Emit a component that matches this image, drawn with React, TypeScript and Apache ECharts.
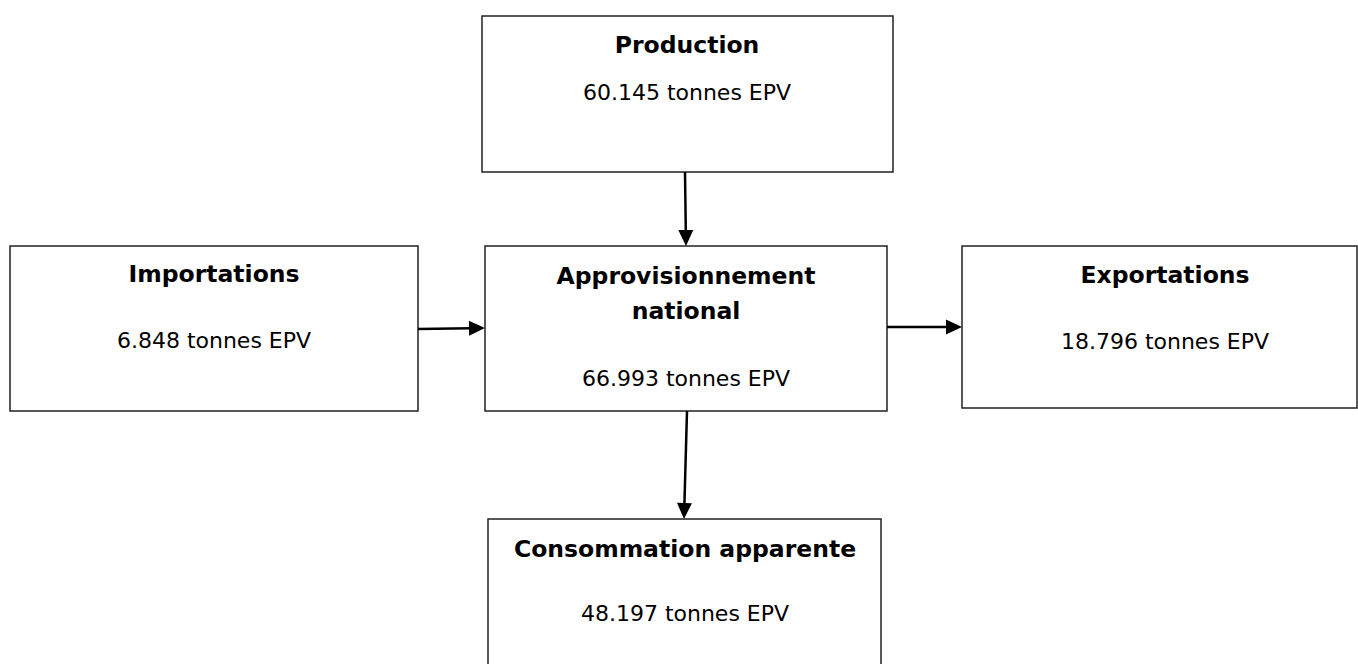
import React, { useEffect, useRef } from "react";
import * as echarts from "echarts";

// ---- data ----
const nodeNames: string[] = [
  "Production",
  "Importations",
  "Approvisionnement\nnational",
  "Exportations",
  "Consommation apparente",
];
const nodeValues: number[] = [60145, 6848, 66993, 18796, 48197];
const unitLabel = "tonnes EPV";
// flows: [from, to]
const flowFrom: number[] = [0, 1, 2, 2];
const flowTo: number[] = [2, 2, 3, 4];

// ---- layout (positions / sizes only) ----
const boxX = [482, 10, 485, 962, 488];
const boxY = [16, 246, 246, 246, 519];
const boxW = [411, 408, 402, 395, 393];
const boxH = [156, 165, 165, 162, 170];
const titleCx = [687, 214, 686, 1165, 685];
const titleCy = [45, 274, 276, 275, 549];
const valueCy = [92, 340, 378, 341, 613];
// arrow endpoints per flow
const arrowStart: [number, number][] = [
  [685, 172],
  [418, 329],
  [887, 327],
  [687, 411],
];
const arrowEnd: [number, number][] = [
  [686, 246],
  [485, 328],
  [962, 327],
  [684, 519],
];

function fmt(v: number): string {
  const s = String(Math.round(v));
  return s.replace(/\B(?=(\d{3})+(?!\d))/g, ".");
}

function buildGraphics() {
  const els: any[] = [];
  const FONT = "'DejaVu Sans', sans-serif";
  nodeNames.forEach((name, i) => {
    els.push({
      type: "rect",
      shape: { x: boxX[i], y: boxY[i], width: boxW[i], height: boxH[i] },
      style: { fill: "#ffffff", stroke: "#222222", lineWidth: 1.5 },
      z: 1,
    });
    const lines = name.split("\n");
    lines.forEach((ln, k) => {
      els.push({
        type: "text",
        x: titleCx[i],
        y: titleCy[i] + k * 35,
        style: {
          text: ln,
          fontFamily: FONT,
          fontWeight: "bold",
          fontSize: 23.5,
          fill: "#000000",
          align: "center",
          verticalAlign: "middle",
        },
        z: 3,
      });
    });
    els.push({
      type: "text",
      x: titleCx[i],
      y: valueCy[i],
      style: {
        text: fmt(nodeValues[i]) + " " + unitLabel,
        fontFamily: FONT,
        fontSize: 22,
        fill: "#000000",
        align: "center",
        verticalAlign: "middle",
      },
      z: 3,
    });
  });

  flowFrom.forEach((f, j) => {
    const [x1, y1] = arrowStart[j];
    const [x2, y2] = arrowEnd[j];
    const dx = x2 - x1;
    const dy = y2 - y1;
    const len = Math.sqrt(dx * dx + dy * dy);
    const ux = dx / len;
    const uy = dy / len;
    const headLen = 16;
    const headHalf = 7.5;
    const bx = x2 - ux * headLen;
    const by = y2 - uy * headLen;
    els.push({
      type: "line",
      shape: { x1, y1, x2: bx + ux * 2, y2: by + uy * 2 },
      style: { stroke: "#000000", lineWidth: 2.5 },
      z: 2,
    });
    els.push({
      type: "polygon",
      shape: {
        points: [
          [x2, y2],
          [bx - uy * headHalf, by + ux * headHalf],
          [bx + uy * headHalf, by - ux * headHalf],
        ],
      },
      style: { fill: "#000000" },
      z: 2,
    });
  });
  return els;
}

export default function App() {
  const ref = useRef<HTMLDivElement>(null);
  useEffect(() => {
    if (!ref.current) return;
    const chart = echarts.init(ref.current, undefined, { renderer: "svg" });
    chart.setOption({
      animation: false,
      backgroundColor: "#ffffff",
      graphic: { elements: buildGraphics() },
    });
    return () => chart.dispose();
  }, []);
  return (
    <div
      ref={ref}
      style={{ position: "fixed", left: 0, top: 0, width: 1358, height: 664, background: "#fff" }}
    />
  );
}
